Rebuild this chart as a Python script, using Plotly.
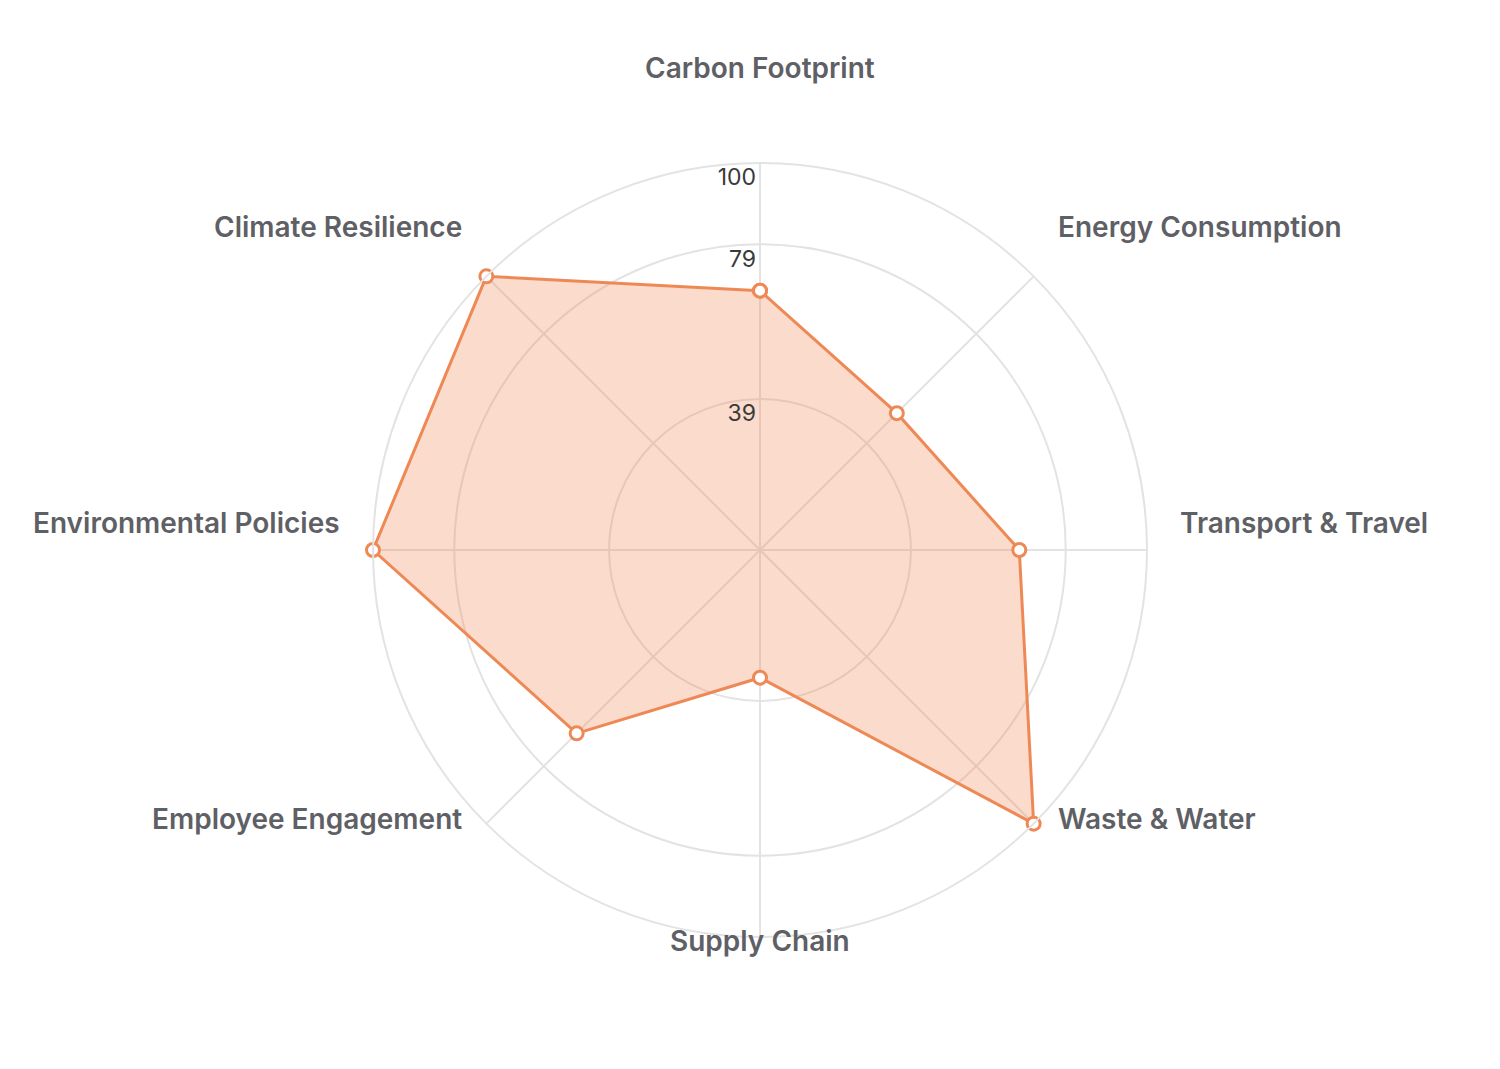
import math
import plotly.graph_objects as go

categories = ["Carbon Footprint", "Energy Consumption", "Transport & Travel", "Waste & Water",
              "Supply Chain", "Employee Engagement", "Environmental Policies", "Climate Resilience"]
scores = [67, 50, 67, 100, 33, 67, 100, 100]
tick_values = [39, 79, 100]
tick_labels = ["39", "79", "100"]

W, H = 1500, 1069
PAGE_OFFSET = 8  # default body margin of the html page
CX, CY, R = 760 - PAGE_OFFSET, 550 - PAGE_OFFSET, 387
ORANGE = "#EE8956"
GRID = "#E3E3E3"
FONT = "Inter, Lato, sans-serif"

fig = go.Figure()
fig.add_trace(go.Scatterpolar(
    r=scores + [scores[0]],
    theta=categories + [categories[0]],
    mode="lines+markers",
    fill="toself",
    fillcolor="rgba(238,137,86,0.30)",
    line=dict(color=ORANGE, width=3),
    marker=dict(size=13, color="white", line=dict(color=ORANGE, width=3)),
    hoverinfo="skip",
    showlegend=False,
))

# category labels placed around the chart
annotations = []
n = len(categories)
label_r = 418
for i, name in enumerate(categories):
    ang = math.radians(90 - i * 360 / n)
    dx = math.cos(ang) * label_r
    dy = -math.sin(ang) * label_r
    if abs(dx) < 1:
        xanchor = "center"
        dy = dy - 37 if dy < 0 else dy
    elif dx > 0:
        xanchor = "left"
    else:
        xanchor = "right"
    px = CX + dx
    py = CY + dy - 27
    annotations.append(dict(
        x=px / W, y=1 - py / H, xref="paper", yref="paper",
        text=name, showarrow=False, xanchor=xanchor, yanchor="middle",
        font=dict(family=FONT, size=28, color="#5F5F66", weight=600),
    ))

fig.update_layout(
    width=W, height=H,
    margin=dict(l=0, r=0, t=0, b=0),
    paper_bgcolor="white",
    font=dict(family=FONT),
    annotations=annotations,
    polar=dict(
        domain=dict(x=[(CX - R) / W, (CX + R) / W], y=[(H - CY - R) / H, (H - CY + R) / H]),
        bgcolor="white",
        radialaxis=dict(
            range=[0, 100], tickvals=tick_values,
            ticktext=["<br>" + t for t in tick_labels],
            angle=90, tickangle=90, side="counterclockwise",
            showline=False, ticks="", gridcolor=GRID, gridwidth=2,
            tickfont=dict(family=FONT, size=23, color="#3A3A3A"),
        ),
        angularaxis=dict(
            rotation=90, direction="clockwise",
            showticklabels=False, ticks="",
            linecolor=GRID, linewidth=2, gridcolor=GRID, gridwidth=2,
        ),
    ),
)

fig.write_html("out.html")
